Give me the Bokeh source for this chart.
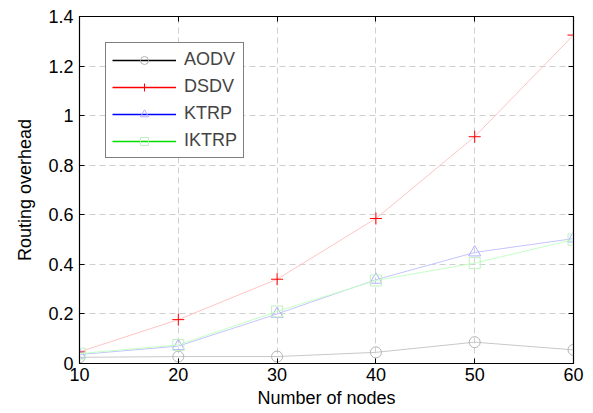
from bokeh.plotting import figure
from bokeh.models import LinearAxis, Legend, LegendItem, FixedTicker, Range1d
from bokeh.embed import file_html
from bokeh.resources import INLINE

nodes = [10, 20, 30, 40, 50, 60]
aodv = [0.025, 0.028, 0.028, 0.045, 0.086, 0.055]
dsdv = [0.047, 0.177, 0.34, 0.585, 0.915, 1.325]
ktrp = [0.036, 0.07, 0.2, 0.338, 0.448, 0.504]
iktrp = [0.04, 0.075, 0.21, 0.335, 0.405, 0.5]

x_ticks = [10, 20, 30, 40, 50, 60]
y_ticks = [0, 0.2, 0.4, 0.6, 0.8, 1.0, 1.2, 1.4]
y_labels = {0: "0", 0.2: "0.2", 0.4: "0.4", 0.6: "0.6", 0.8: "0.8", 1.0: "1", 1.2: "1.2", 1.4: "1.4"}

FONT = "Liberation Sans"
FS = "18px"

p = figure(width=590, height=410, output_backend="svg", toolbar_location=None,
           x_range=Range1d(10, 60), y_range=Range1d(0, 1.4),
           min_border_left=79, min_border_right=17, min_border_top=16, min_border_bottom=47)
p.outline_line_color = "black"
p.outline_line_width = 1.2
p.background_fill_color = "white"
p.border_fill_color = "white"

def style_axis(ax, labels=True):
    ax.major_tick_in = 5
    ax.major_tick_out = 0
    ax.minor_tick_line_color = None
    ax.axis_line_color = "black"
    ax.major_tick_line_color = "black"
    ax.major_label_text_font = FONT
    ax.major_label_text_font_size = FS if labels else "1px"
    ax.major_label_text_color = "black" if labels else None
    ax.axis_label_text_font = FONT
    ax.axis_label_text_font_size = FS
    ax.axis_label_text_font_style = "normal"
    ax.axis_label_text_color = "black"

p.xaxis.ticker = FixedTicker(ticks=x_ticks)
p.yaxis.ticker = FixedTicker(ticks=y_ticks)
p.yaxis.major_label_overrides = y_labels
p.xaxis.axis_label = "Number of nodes"
p.yaxis.axis_label = "Routing overhead"
style_axis(p.xaxis[0])
style_axis(p.yaxis[0])
p.xaxis.major_label_standoff = 4
p.xaxis.axis_label_standoff = 4
p.yaxis.major_label_standoff = 6
p.yaxis.axis_label_standoff = 10

top = LinearAxis(ticker=FixedTicker(ticks=x_ticks), major_label_standoff=0)
right = LinearAxis(ticker=FixedTicker(ticks=y_ticks), major_label_standoff=0)
style_axis(top, False)
style_axis(right, False)
p.add_layout(top, "above")
p.add_layout(right, "right")

p.xgrid.ticker = FixedTicker(ticks=x_ticks)
p.ygrid.ticker = FixedTicker(ticks=y_ticks)
for g in (p.xgrid[0], p.ygrid[0]):
    g.grid_line_color = "#cfcfcf"
    g.grid_line_dash = "6 4"
    g.grid_line_width = 1

series = [
    ("AODV", aodv, "#c8c8c8", "black", "circle", "#b4b4b4", 11),
    ("DSDV", dsdv, "#ffc4c4", "red", "cross", "red", 12),
    ("KTRP", ktrp, "#c4c4ff", "blue", "triangle", "#b0b0ff", 12),
    ("IKTRP", iktrp, "#c4ffc4", "#00e000", "square", "#c0f0c0", 11),
]

items = []
for name, vals, lcol, legcol, marker, mcol, msize in series:
    p.line(nodes, vals, line_color=lcol, line_width=1)
    sc = p.scatter(nodes, vals, marker=marker, size=msize, line_color=mcol,
                   fill_color=None, line_width=1)
    dummy = p.line([float("nan")], [float("nan")], line_color=legcol, line_width=1.3)
    items.append(LegendItem(label=name, renderers=[dummy, sc]))

legend = Legend(items=items, location="top_left", glyph_width=64, glyph_height=20,
                label_height=20, spacing=6, padding=6, margin=26, label_standoff=8,
                label_text_font=FONT, label_text_font_size=FS,
                border_line_color="black", border_line_width=1.2,
                background_fill_alpha=1.0)
p.add_layout(legend, "center")

open("out.html", "w").write(file_html(p, INLINE))
